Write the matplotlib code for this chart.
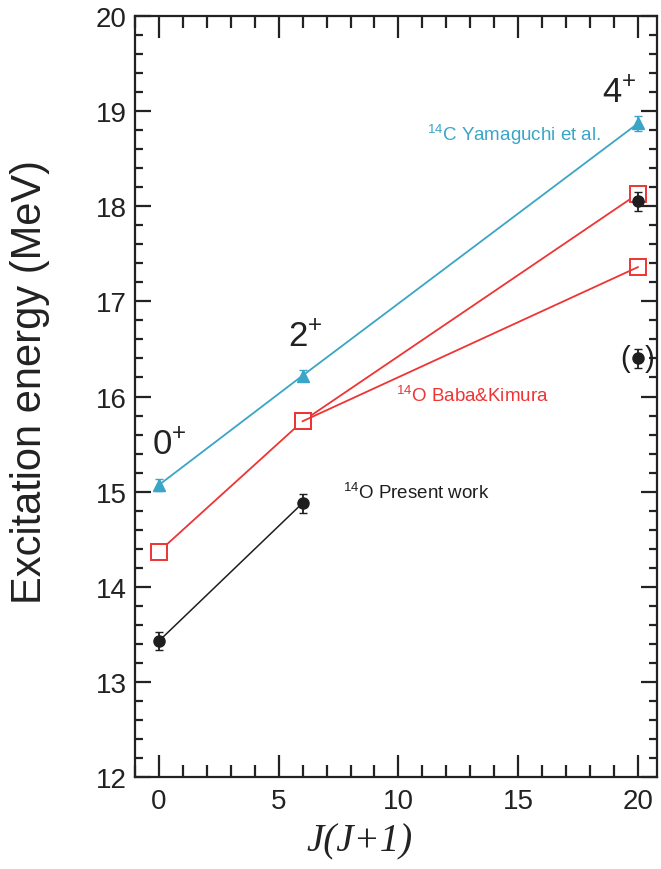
import matplotlib
matplotlib.use("Agg")
import matplotlib.pyplot as plt
from matplotlib.ticker import MultipleLocator

plt.rcParams["font.family"] = ["Liberation Sans", "DejaVu Sans"]
plt.rcParams["mathtext.fontset"] = "custom"
plt.rcParams["mathtext.rm"] = "Liberation Sans"
plt.rcParams["mathtext.it"] = "Liberation Sans:italic"
plt.rcParams["mathtext.bf"] = "Liberation Sans:bold"

# ── Data ──────────────────────────────────────────────────────────────
jj_c = [0, 6, 20]
e_c = [15.07, 16.22, 18.87]
err_c = [0.06, 0.06, 0.08]

jj_baba1 = [0, 6, 20]
e_baba1 = [14.37, 15.74, 18.13]
jj_baba2 = [6, 20]
e_baba2 = [15.74, 17.36]

jj_o = [0, 6]
e_o = [13.43, 14.88]
err_o = [0.09, 0.10]
jj_o4 = [20]
e_o4 = [18.05]
err_o4 = [0.10]
jj_o4b = [20]
e_o4b = [16.40]
err_o4b = [0.10]

C_CYAN = "#3aa5c6"
C_RED = "#ee3434"
C_BLK = "#1e1e1e"

fig = plt.figure(figsize=(6.61, 8.70), dpi=100)
ax = fig.add_axes([0.2042, 0.1057, 0.7898, 0.8748])

ax.errorbar(jj_c, e_c, yerr=err_c, color=C_CYAN, marker="^", markersize=8,
            linewidth=1.3, elinewidth=1.3, capsize=3, zorder=3)
ax.plot(jj_baba1, e_baba1, color=C_RED, marker="s", markersize=11,
        markerfacecolor="white", markeredgecolor=C_RED, markeredgewidth=1.4,
        linewidth=1.3, zorder=2)
ax.plot(jj_baba2, e_baba2, color=C_RED, marker="s", markersize=11,
        markerfacecolor="none", markeredgecolor=C_RED, markeredgewidth=1.4,
        linewidth=1.3, zorder=2)
ax.errorbar(jj_o, e_o, yerr=err_o, color=C_BLK, marker="o", markersize=8,
            linewidth=1.1, elinewidth=1.3, capsize=3, zorder=4)
ax.errorbar(jj_o4, e_o4, yerr=err_o4, color=C_BLK, marker="o", markersize=8,
            linestyle="none", elinewidth=1.3, capsize=3, zorder=4)
ax.errorbar(jj_o4b, e_o4b, yerr=err_o4b, color=C_BLK, marker="o", markersize=8,
            linestyle="none", elinewidth=1.3, capsize=3, zorder=4)
ax.text(19.45, 16.4, "(", fontsize=21, ha="center", va="center", color=C_BLK)
ax.text(20.5, 16.4, ")", fontsize=21, ha="center", va="center", color=C_BLK)

# spin labels
ax.text(-0.3, 15.4, "0$^{+}$", fontsize=25, color="#222222")
ax.text(5.4, 16.53, "2$^{+}$", fontsize=25, color="#222222")
ax.text(18.5, 19.1, "4$^{+}$", fontsize=25, color="#222222")

# series labels
ax.text(11.2, 18.7, "$^{14}$C Yamaguchi et al.", fontsize=13.5, color=C_CYAN)
ax.text(9.9, 15.95, "$^{14}$O Baba&Kimura", fontsize=13.5, color=C_RED)
ax.text(7.7, 14.93, "$^{14}$O Present work", fontsize=13.5, color=C_BLK)

ax.set_xlim(-1.0, 20.8)
ax.set_ylim(12, 20)
ax.xaxis.set_major_locator(MultipleLocator(5))
ax.xaxis.set_minor_locator(MultipleLocator(1))
ax.yaxis.set_major_locator(MultipleLocator(1))
ax.yaxis.set_minor_locator(MultipleLocator(0.2))
ax.tick_params(which="both", direction="in", top=True, right=True,
               width=1.6, labelsize=20, pad=6, colors="#222222")
ax.tick_params(axis="x", which="major", length=16)
ax.tick_params(axis="x", which="minor", length=8.5)
ax.tick_params(axis="y", which="major", length=11.5)
ax.tick_params(axis="y", which="minor", length=5.8)
ax.tick_params(axis="x", which="major", pad=8)
for s in ax.spines.values():
    s.set_linewidth(1.6)
    s.set_color("#222222")

ax.set_ylabel("Excitation energy (MeV)", fontsize=30, color="#222222",
              labelpad=33, y=0.52)
ax.set_xlabel("J(J+1)", fontsize=28, family=["Liberation Serif"], style="italic",
              color="#222222", labelpad=6, x=0.431)

fig.savefig("out.png", dpi=100, facecolor="white")
